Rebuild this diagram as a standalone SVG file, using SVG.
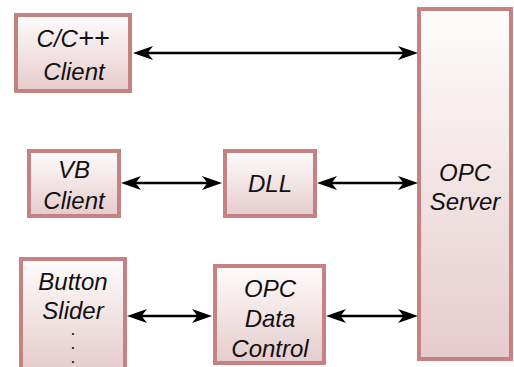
<svg xmlns="http://www.w3.org/2000/svg" width="514" height="367" viewBox="0 0 514 367">
<defs>
<linearGradient id="g" x1="0" y1="0" x2="0" y2="1">
<stop offset="0" stop-color="#fefcfc"/>
<stop offset="1" stop-color="#e6cbcc"/>
</linearGradient>
<marker id="ah" viewBox="0 0 20 15" refX="13" refY="7.5" markerWidth="20" markerHeight="15" markerUnits="userSpaceOnUse" orient="auto-start-reverse">
<path d="M20 7.5 L0 0.5 L5.5 7.5 L0 14.5 Z" fill="#000"/>
</marker>
</defs>
<style>
.box{fill:url(#g);stroke:#c68283;stroke-width:4}
.t{font-family:"Liberation Sans",Arial,sans-serif;font-style:italic;font-size:24px;fill:#111;text-anchor:middle}
.d{font-family:"Liberation Sans",Arial,sans-serif;font-weight:bold;font-size:12px;fill:#111;text-anchor:middle}
.c{stroke:#000;stroke-width:2.5;fill:none;marker-start:url(#ah);marker-end:url(#ah)}
</style>
<rect width="514" height="367" fill="#fff"/>
<g id="cclient">
<rect class="box" x="16" y="15" width="114" height="76"/>
<text class="t" x="73" y="47">C/C<tspan font-size="27">++</tspan></text>
<text class="t" x="74" y="80">Client</text>
</g>
<g id="vbclient">
<rect class="box" x="29" y="151" width="90" height="65"/>
<text class="t" x="74" y="178">VB</text>
<text class="t" x="74" y="209">Client</text>
</g>
<g id="dll">
<rect class="box" x="225" y="151" width="90" height="65"/>
<text class="t" x="270" y="192">DLL</text>
</g>
<g id="buttonslider">
<rect class="box" x="21" y="259" width="104" height="112"/>
<text class="t" x="73" y="290">Button</text>
<text class="t" x="73" y="319">Slider</text>
<text class="d" x="73" y="335">.</text>
<text class="d" x="73" y="349">.</text>
<text class="d" x="73" y="363">.</text>
</g>
<g id="opcdatacontrol">
<rect class="box" x="215" y="266" width="109" height="97"/>
<text class="t" x="270" y="297">OPC</text>
<text class="t" x="270" y="327">Data</text>
<text class="t" x="270" y="357">Control</text>
</g>
<g id="opcserver">
<rect class="box" x="419" y="9" width="92" height="350"/>
<text class="t" x="465" y="181">OPC</text>
<text class="t" x="465" y="210">Server</text>
</g>
<g id="connectors">
<line class="c" x1="140" y1="53" x2="411" y2="53"/>
<line class="c" x1="128" y1="183" x2="215" y2="183"/>
<line class="c" x1="324" y1="183" x2="411" y2="183"/>
<line class="c" x1="134" y1="316" x2="205" y2="316"/>
<line class="c" x1="333" y1="316" x2="411" y2="316"/>
</g>
</svg>
